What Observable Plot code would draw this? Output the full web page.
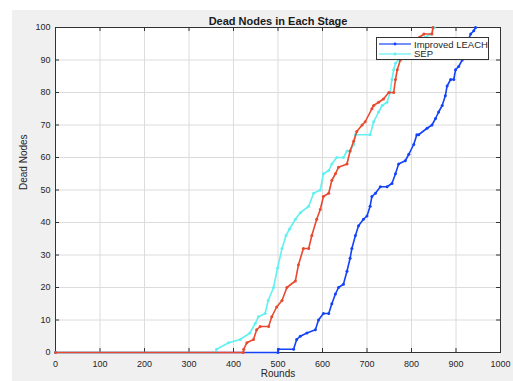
<!DOCTYPE html>
<html>
<head>
<meta charset="utf-8">
<script src="https://cdn.jsdelivr.net/npm/d3@7"></script>
<script src="https://cdn.jsdelivr.net/npm/@observablehq/plot@0.6"></script>
<style>
  html, body { margin: 0; padding: 0; background: #ffffff; }
  #figure {
    position: absolute; left: 12px; top: 10px; width: 501px; height: 371px;
    background: #f0f0f0; font-family: "Liberation Sans", Arial, Helvetica, sans-serif;
  }
  #chart { position: absolute; left: 0; top: 0; }
  #legend {
    position: absolute; left: 364px; top: 27px; width: 111px; height: 21px;
    background: #ffffff; border: 1px solid #333333;
    font-size: 9.5px; color: #262626;
  }
  .entry { position: absolute; left: 2px; height: 10px; display: flex; align-items: center; }
  .entry svg { margin-right: 3px; }
</style>
</head>
<body>
<div id="figure">
  <div id="chart"></div>
  <div id="legend"></div>
</div>
<script>
// Dead nodes per round for each protocol (read as rounds / dead-node counts)
const leachImprovedRounds = [0, 500, 501, 535, 542, 550, 565, 584, 591, 602, 614, 621, 629, 636, 647, 655, 662, 666, 674, 681, 692, 700, 707, 711, 719, 730, 745, 756, 764, 771, 786, 794, 805, 812, 816, 835, 846, 854, 861, 869, 876, 880, 888, 895, 899, 906, 914, 920, 927, 933, 940, 944];
const leachImprovedDead   = [0,   0,   1,   1,   4,   5,   6,   7,  10,  12,  12,  15,  18,  20,  21,  25,  29,  32,  36,  39,  41,  42,  45,  48,  49,  51,  51,  52,  55,  58,  59,  61,  64,  67,  67,  69,  70,  72,  74,  76,  79,  82,  84,  84,  87,  88,  90,  93,  96,  98,  99, 100];

const sepRounds = [0, 359, 362, 389, 415, 437, 449, 456, 471, 478, 490, 499, 509, 518, 526, 539, 550, 569, 580, 595, 602, 614, 621, 632, 647, 655, 662, 670, 674, 707, 715, 726, 734, 745, 752, 756, 760, 764, 771, 790, 810, 830, 845, 851];
const sepDead   = [0,   0,   1,   3,   4,   6,   9,  11,  12,  16,  20,  26,  32,  36,  38,  41,  43,  45,  49,  50,  55,  56,  58,  60,  60,  62,  62,  64,  67,  67,  71,  74,  76,  77,  80,  84,  87,  89,  90,  93,  95,  97,  98, 100];

const leachRounds = [0, 422, 423, 430, 445, 452, 460, 479, 486, 497, 509, 520, 539, 546, 557, 569, 576, 587, 595, 602, 614, 621, 629, 636, 655, 662, 670, 677, 689, 696, 711, 715, 726, 737, 749, 760, 764, 768, 775, 790, 805, 818, 828, 846, 848];
const leachDead   = [0,   0,   1,   3,   4,   7,   8,   8,  11,  14,  16,  20,  22,  27,  32,  32,  36,  41,  44,  48,  49,  53,  55,  57,  58,  62,  65,  68,  70,  71,  75,  76,  77,  78,  80,  80,  84,  87,  90,  92,  95,  97,  98,  98, 100];

const xTicks = [0, 100, 200, 300, 400, 500, 600, 700, 800, 900, 1000];
const yTicks = [0, 10, 20, 30, 40, 50, 60, 70, 80, 90, 100];

const series = [
  {name: "Improved LEACH", rounds: leachImprovedRounds, dead: leachImprovedDead, color: "#1443f7", legend: true},
  {name: "SEP", rounds: sepRounds, dead: sepDead, color: "#62f0f0", legend: true},
  {name: "LEACH", rounds: leachRounds, dead: leachDead, color: "#e8492f", legend: false}
];

const toRows = s => s.rounds.map((r, i) => ({round: r, dead: s.dead[i]}));

const width = 501, height = 371;
const margin = {top: 17, right: 13, bottom: 29, left: 43};
const innerW = width - margin.left - margin.right;
const innerH = height - margin.top - margin.bottom;
const axisColor = "#333333";
const plain = d => String(d);

const marks = [
  Plot.frame({fill: "#ffffff"}),
  Plot.gridX(xTicks, {stroke: "#dcdcdc", strokeOpacity: 1}),
  Plot.gridY(yTicks, {stroke: "#dcdcdc", strokeOpacity: 1}),
  // inward tick marks on all four sides
  Plot.ruleX(xTicks, {stroke: axisColor, insetTop: innerH - 4}),
  Plot.ruleX(xTicks, {stroke: axisColor, insetBottom: innerH - 4}),
  Plot.ruleY(yTicks, {stroke: axisColor, insetRight: innerW - 4}),
  Plot.ruleY(yTicks, {stroke: axisColor, insetLeft: innerW - 4}),
  Plot.axisX({ticks: xTicks, tickFormat: plain, tickSize: 0, tickPadding: 8, fontSize: 9, label: null, fill: "#262626"}),
  Plot.axisY({ticks: yTicks, tickFormat: plain, tickSize: 0, tickPadding: 5, fontSize: 9, label: null, fill: "#262626"}),
  Plot.frame({stroke: axisColor})
];

for (const s of series) {
  const rows = toRows(s);
  marks.push(Plot.line(rows, {x: "round", y: "dead", stroke: s.color, strokeWidth: 1.6}));
  marks.push(Plot.dot(rows, {x: "round", y: "dead", fill: s.color, r: 1.5}));
}

marks.push(
  Plot.text(["Dead Nodes in Each Stage"], {frameAnchor: "top", dy: -10, fontSize: 11, fontWeight: "bold", fill: "#1a1a1a"}),
  Plot.text(["Rounds"], {frameAnchor: "bottom", dy: 24, fontSize: 10, fill: "#262626"}),
  Plot.text(["Dead Nodes"], {frameAnchor: "left", dx: -32, rotate: -90, fontSize: 10, fill: "#262626"})
);

const chart = Plot.plot({
  width, height,
  marginTop: margin.top, marginRight: margin.right, marginBottom: margin.bottom, marginLeft: margin.left,
  style: {background: "transparent", fontFamily: "'Liberation Sans', Arial, Helvetica, sans-serif"},
  x: {domain: [0, 1000]},
  y: {domain: [0, 100]},
  marks
});
document.getElementById("chart").appendChild(chart);

// Legend for the labelled series
const legend = document.getElementById("legend");
series.filter(s => s.legend).forEach((s, i) => {
  const entry = document.createElement("div");
  entry.className = "entry";
  entry.style.top = (1 + i * 9.5) + "px";
  entry.innerHTML =
    `<svg width="32" height="6"><line x1="0" x2="32" y1="3" y2="3" stroke="${s.color}" stroke-width="1.2"/>` +
    `<circle cx="16" cy="3" r="1.4" fill="${s.color}"/></svg><span>${s.name}</span>`;
  legend.appendChild(entry);
});
</script>
</body>
</html>
